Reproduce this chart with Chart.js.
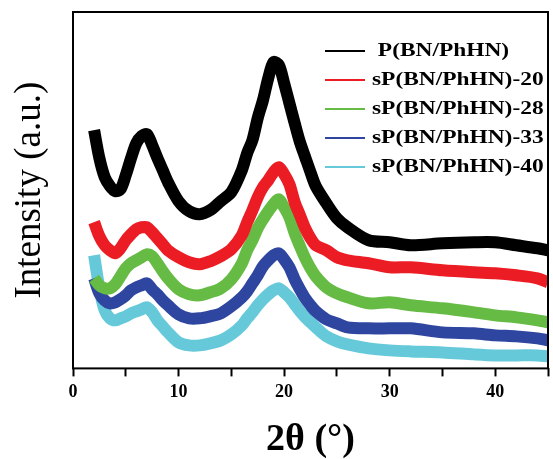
<!DOCTYPE html>
<html>
<head>
<meta charset="utf-8">
<script src="https://cdn.jsdelivr.net/npm/chart.js@4/dist/chart.umd.min.js"></script>
<style>
  html, body { margin: 0; padding: 0; background: #fff; overflow: hidden; }
  #wrap { width: 553px; height: 459px; position: relative; }
</style>
</head>
<body>
<div id="wrap"><canvas id="xrd" width="553" height="459"></canvas></div>
<script>
// Diffraction angle (2θ, degrees)
const twoTheta = [2, 2.5, 3, 3.5, 4, 4.5, 5, 5.5, 6, 6.5, 7, 7.5, 8, 8.5, 9, 10, 11, 12, 13, 14, 15, 16, 16.5, 17, 17.5, 18, 18.5, 19, 19.5, 20, 20.5, 21, 21.5, 22, 22.5, 23, 24, 25, 26, 28, 30, 32, 35, 38, 40, 42, 44, 45];

// Offset intensities, arbitrary units
const pBNPhHN    = [238, 210, 191, 182, 177, 179, 193, 210, 225, 232, 234, 223, 210, 198, 186, 167, 157, 154, 158, 167, 176, 198, 215, 228, 250, 268, 290, 306, 303, 285, 265, 245, 226, 211, 196, 182, 165, 150, 141, 128, 126, 123, 125, 126, 126, 123, 120, 118];
const spBNPhHN20 = [146, 132, 123, 118, 115, 120, 128, 134, 139, 141, 141, 136, 130, 124, 118, 111, 106, 104, 107, 112, 119, 133, 146, 158, 171, 181, 188, 196, 201, 194, 184, 166, 153, 140, 130, 123, 118, 111, 108, 105, 101, 101, 98, 96, 95, 93, 90, 86];
const spBNPhHN28 = [90, 83, 80, 80, 84, 92, 100, 105, 108, 111, 114, 112, 105, 97, 90, 79, 74, 73, 76, 80, 89, 105, 118, 128, 140, 149, 157, 164, 169, 161, 151, 135, 122, 110, 100, 92, 81, 75, 71, 65, 66, 63, 60, 56, 53, 51, 48, 46];
const spBNPhHN33 = [90, 75, 68, 65, 66, 69, 73, 78, 81, 83, 85, 79, 74, 68, 63, 54, 50, 50, 52, 55, 62, 71, 77, 85, 93, 102, 108, 113, 115, 109, 101, 89, 79, 70, 63, 57, 49, 45, 41, 40, 40, 40, 36, 35, 33, 32, 30, 28];
const spBNPhHN40 = [113, 80, 58, 50, 48, 50, 52, 55, 57, 59, 61, 56, 48, 42, 36, 26, 23, 23, 25, 28, 34, 43, 50, 56, 63, 69, 74, 78, 80, 76, 71, 64, 57, 51, 46, 41, 32, 27, 24, 20, 18, 17, 16, 14, 13, 13, 13, 12];

const seriesNames = [' P(BN/PhHN)', 'sP(BN/PhHN)-20', 'sP(BN/PhHN)-28', 'sP(BN/PhHN)-33', 'sP(BN/PhHN)-40'];
const seriesColors = ['#000000', '#ec1c24', '#66bb44', '#2f46a0', '#66c9da'];
const seriesValues = [pBNPhHN, spBNPhHN20, spBNPhHN28, spBNPhHN33, spBNPhHN40];

const xTicks = [0, 10, 20, 30, 40];

const toPoints = vals => twoTheta.map((a, i) => ({ x: a, y: vals[i] }));

// Frame around the plotting area
const framePlugin = {
  id: 'frame',
  afterDatasetsDraw(chart) {
    const { ctx, chartArea: a } = chart;
    ctx.save();
    ctx.strokeStyle = '#000';
    ctx.lineWidth = 2;
    ctx.strokeRect(a.left, a.top, a.right - a.left, a.bottom - a.top);
    ctx.restore();
  }
};

// Legend drawn inside the plot, upper right
const insideLegend = {
  id: 'insideLegend',
  afterDraw(chart) {
    const { ctx } = chart;
    const x0 = 325, lineLen = 40, gap = 7, y0 = 51, step = 29;
    ctx.save();
    ctx.font = 'bold 18px "Liberation Serif", "Times New Roman", serif';
    ctx.textBaseline = 'middle';
    ctx.fillStyle = '#000';
    chart.data.datasets.forEach((ds, i) => {
      const y = y0 + i * step;
      ctx.strokeStyle = ds.borderColor;
      ctx.lineWidth = 2;
      ctx.beginPath();
      ctx.moveTo(x0, y);
      ctx.lineTo(x0 + lineLen, y);
      ctx.stroke();
      ctx.save();
      ctx.translate(x0 + lineLen + gap, y);
      ctx.scale(1.3, 1);
      ctx.fillText(ds.label, 0, 0);
      ctx.restore();
    });
    ctx.restore();
  }
};

new Chart(document.getElementById('xrd'), {
  type: 'line',
  data: {
    datasets: seriesValues.map((vals, i) => ({
      label: seriesNames[i],
      data: toPoints(vals),
      borderColor: seriesColors[i],
      backgroundColor: seriesColors[i],
      borderWidth: 12,
      pointRadius: 0,
      tension: 0.3,
      borderJoinStyle: 'round',
      fill: false
    }))
  },
  options: {
    responsive: false,
    animation: false,
    events: [],
    layout: { padding: { top: 12, right: 3, bottom: 0, left: 0 } },
    plugins: { legend: { display: false }, tooltip: { enabled: false } },
    scales: {
      x: {
        type: 'linear',
        min: 0,
        max: 45,
        border: { display: false },
        grid: { display: true, drawOnChartArea: false, drawTicks: true, tickLength: 8, tickColor: '#000', tickWidth: 2 },
        ticks: {
          stepSize: 5,
          autoSkip: false,
          maxRotation: 0,
          padding: 5,
          color: '#000',
          font: { family: '"Liberation Serif", "Times New Roman", serif', size: 18, weight: 'bold' },
          callback: v => (xTicks.includes(v) ? String(v) : '')
        },
        title: {
          display: true,
          text: '2θ (°)',
          color: '#000',
          font: { family: '"Liberation Serif", "Times New Roman", serif', size: 38, weight: 'bold', lineHeight: 1 },
          padding: { top: 13, bottom: 0 }
        }
      },
      y: {
        min: 0,
        max: 356,
        border: { display: false },
        grid: { display: false, drawTicks: false },
        ticks: { display: false },
        title: {
          display: true,
          text: 'Intensity (a.u.)',
          color: '#000',
          font: { family: '"Liberation Serif", "Times New Roman", serif', size: 37, weight: 'normal', lineHeight: 1.2 },
          padding: { top: 7.8, bottom: 20.8 }
        }
      }
    }
  },
  plugins: [framePlugin, insideLegend]
});
</script>
</body>
</html>
